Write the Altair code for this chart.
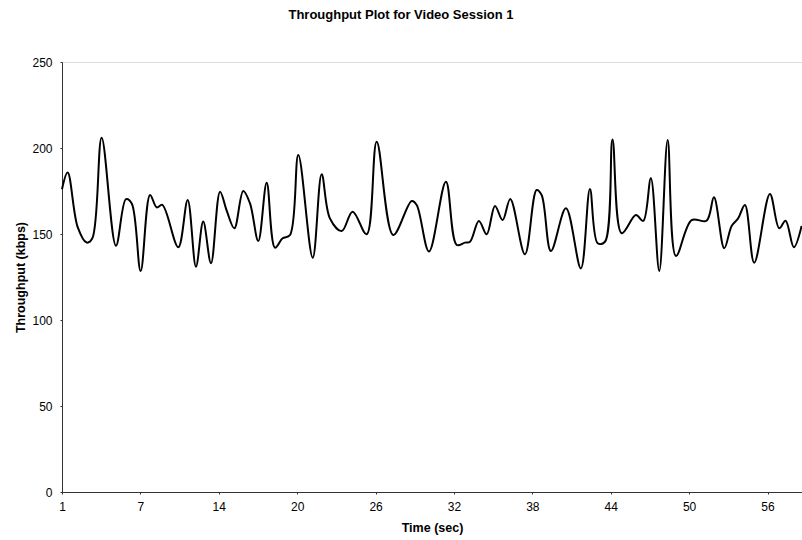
import altair as alt
import pandas as pd

# Time (sec) and throughput (kbps)
time_sec = [1.00, 1.45, 2.25, 2.97, 3.42, 4.16, 5.30, 6.10, 6.56, 7.27, 8.02, 8.55, 9.00,
            10.27, 11.02, 11.68, 12.26, 12.88, 13.60, 14.13, 14.74, 15.45, 15.99, 16.65,
            17.32, 17.98, 18.59, 19.18, 19.84, 20.99, 21.70, 22.36, 23.30, 24.17, 25.29,
            26.09, 27.41, 28.88, 29.28, 30.26, 31.61, 32.47, 33.13, 33.53, 34.24, 34.86,
            35.52, 36.13, 36.74, 37.91, 38.84, 39.24, 39.98, 41.18, 42.37, 43.09, 43.71,
            44.29, 44.89, 45.62, 46.76, 47.34, 47.95, 48.62, 49.29, 49.95, 51.20, 52.39,
            52.98, 53.80, 54.39, 54.91, 55.45, 56.19, 57.44, 58.18, 58.69, 59.35, 59.97]
throughput = [176.0, 185.7, 154.0, 145.0, 147.5, 206.0, 143.2, 170.3, 167.8, 128.5, 172.7,
              165.5, 166.9, 142.3, 169.8, 131.0, 157.2, 133.0, 174.6, 163.6, 153.3, 175.0,
              167.8, 145.9, 179.8, 142.0, 147.5, 149.4, 195.9, 136.2, 184.7, 159.1, 151.7,
              163.0, 149.8, 203.7, 149.4, 169.2, 166.9, 139.8, 180.4, 143.6, 145.0, 145.5,
              157.6, 149.8, 166.3, 158.1, 170.3, 138.2, 175.6, 172.7, 140.1, 164.9, 130.0,
              176.2, 144.6, 145.5, 205.0, 150.4, 161.0, 157.6, 182.4, 128.5, 204.7, 137.2,
              158.1, 157.7, 171.3, 141.7, 154.7, 159.1, 166.9, 133.3, 173.3, 153.3, 157.7,
              142.3, 154.7]

x_tick_labels = ["1", "7", "14", "20", "26", "32", "38", "44", "50", "56"]
x_tick_step = 6.25
x_tick_values = [1 + i * x_tick_step for i in range(len(x_tick_labels))]
y_ticks = [0, 50, 100, 150, 200, 250]

df = pd.DataFrame({"t": time_sec, "kbps": throughput})

label_list = "[" + ",".join("'" + s + "'" for s in x_tick_labels) + "]"
label_expr = f"{label_list}[round((datum.value - 1) / {x_tick_step})]"

font = "Liberation Sans"

chart = alt.Chart(df).mark_line(
    color="black", strokeWidth=2, interpolate="catmull-rom"
).encode(
    x=alt.X("t:Q", scale=alt.Scale(domain=[1, 60], nice=False, zero=False),
            axis=alt.Axis(title="Time (sec)", values=x_tick_values, labelExpr=label_expr,
                          grid=False, tickSize=2, labelPadding=7, titlePadding=9,
                          labelFlush=False, labelOverlap=False,
                          labelFontSize=12, titleFontSize=12.5, titleFontWeight="bold",
                          labelFont=font, titleFont=font, domainColor="#333",
                          tickColor="#333", labelColor="black", titleColor="black")),
    y=alt.Y("kbps:Q", scale=alt.Scale(domain=[0, 250], nice=False),
            axis=alt.Axis(title="Throughput (kbps)", values=y_ticks, grid=False,
                          tickSize=2, labelPadding=8, titlePadding=4,
                          labelFlush=False,
                          labelFontSize=12, titleFontSize=12.5, titleFontWeight="bold",
                          labelFont=font, titleFont=font, domainColor="#333",
                          tickColor="#333", labelColor="black", titleColor="black")),
).properties(
    width=740,
    height=430,
    title=alt.TitleParams("Throughput Plot for Video Session 1", font=font, fontSize=13,
                          fontWeight="bold", color="black", offset=34, dx=-31),
    autosize=alt.AutoSizeParams(type="none"),
    padding={"left": 62, "top": 62, "right": 0, "bottom": 48},
).configure_view(stroke=None).configure(background="white")

chart.save("out.html", embed_options={"renderer": "svg", "actions": False})
